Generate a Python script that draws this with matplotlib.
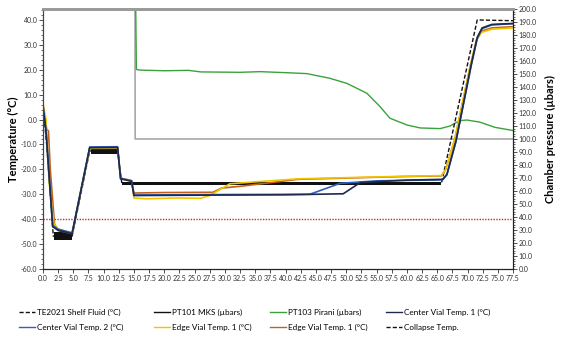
import matplotlib
matplotlib.use("Agg")
import matplotlib.pyplot as plt
from matplotlib.lines import Line2D
from matplotlib.ticker import MultipleLocator, FormatStrFormatter

plt.rcParams['font.family'] = ['Lato', 'DejaVu Sans']

# ---- data (minutes, °C / µbar) ----
shelf_t = [0.0, 0.6, 1.7, 4.8, 7.7, 12.3, 13.0, 65.7, 71.6, 77.5]
shelf_v = [6.0, -10.0, -46.8, -46.8, -12.6, -12.6, -25.6, -25.6, 40.0, 39.7]

# noisy hold periods of the shelf fluid trace (low / high envelope)
band1_t = [1.8, 4.8]
band1_lo = [-48.4, -48.4]
band1_hi = [-45.3, -45.3]
band2_t = [7.9, 12.3]
band2_lo = [-13.8, -13.8]
band2_hi = [-12.0, -12.0]
band3_t = [13.0, 65.7]
band3_lo = [-26.2, -26.2]
band3_hi = [-25.1, -25.1]

cv1_t = [0.0, 0.5, 1.6, 2.5, 4.8, 7.7, 12.3, 12.8, 14.6, 15.0, 30.0, 40.0, 49.5,
         52.3, 60.0, 65.9, 66.6, 68.1, 70.6, 71.6, 72.4, 74.0, 77.5]
cv1_v = [5.5, -5.0, -43.0, -44.5, -45.8, -11.3, -11.2, -23.8, -24.8, -30.5, -30.3,
         -30.2, -29.8, -25.3, -24.3, -24.0, -22.0, -8.5, 22.0, 33.0, 36.8, 38.2, 38.6]

cv2_t = [0.0, 0.5, 1.6, 2.5, 4.8, 7.7, 12.3, 12.8, 14.6, 15.0, 30.0, 44.0, 49.0,
         55.0, 65.9, 66.6, 68.1, 70.6, 71.6, 72.4, 74.0, 77.5]
cv2_v = [5.5, -4.0, -42.5, -44.0, -45.5, -11.0, -10.9, -23.6, -24.6, -30.3, -30.1,
         -30.0, -25.6, -24.6, -24.2, -22.2, -8.8, 21.5, 32.5, 36.5, 38.0, 38.5]

ev1y_t = [0.0, 0.5, 1.0, 1.8, 2.5, 4.8, 7.7, 12.3, 12.8, 14.6, 15.0, 17.0, 22.0,
          26.0, 27.5, 30.8, 35.0, 42.0, 59.0, 65.7, 66.4, 67.9, 70.5, 71.5, 72.3,
          74.0, 77.5]
ev1y_v = [6.3, 0.0, -25.0, -42.0, -44.0, -45.5, -11.5, -11.4, -23.5, -24.7, -31.5,
          -31.8, -31.5, -31.6, -30.5, -25.8, -25.0, -23.8, -22.8, -22.5, -20.0,
          -7.8, 22.0, 32.0, 35.0, 36.3, 36.8]

ev1o_t = [0.0, 0.6, 0.9, 1.2, 1.9, 2.5, 4.8, 7.7, 12.3, 12.8, 14.6, 15.0, 20.0,
          28.0, 29.5, 32.5, 42.0, 59.0, 65.7, 66.4, 67.9, 70.5, 71.5, 72.3, 74.0,
          77.5]
ev1o_v = [6.0, -4.0, -4.5, -20.0, -42.0, -44.5, -45.8, -11.6, -11.5, -23.5, -24.5,
          -29.5, -29.3, -29.2, -27.5, -26.8, -24.0, -22.9, -22.6, -20.0, -8.0, 22.0,
          32.0, 35.5, 36.8, 37.3]

collapse_t = [0.0, 77.5]
collapse_v = [-40.0, -40.0]

mks_t = [0.0, 15.15, 15.2, 77.5]
mks_p = [260.0, 260.0, 100.0, 100.0]

pirani_t = [15.15, 15.4, 16.0, 20.0, 24.0, 26.0, 32.5, 35.8, 40.2, 43.5, 47.3,
            50.1, 53.4, 55.6, 57.2, 60.0, 62.2, 65.5, 67.1, 68.7, 69.9, 72.0,
            74.5, 77.5]
pirani_p = [260.0, 153.5, 153.0, 152.5, 152.8, 151.6, 151.3, 151.8, 151.0, 150.3,
            146.7, 142.8, 135.2, 124.8, 116.0, 110.8, 108.5, 108.0, 110.0, 114.1,
            114.6, 113.0, 109.0, 106.5]

legend_labels = ["TE2021 Shelf Fluid (°C)", "PT101 MKS (µbars)", "PT103 Pirani (µbars)",
                 "Center Vial Temp. 1 (°C)", "Center Vial Temp. 2 (°C)",
                 "Edge Vial Temp. 1 (°C)", "Edge Vial Temp. 1 (°C)", "Collapse Temp."]

# ---- colours ----
c_shelf = "#111111"
c_mks = "#a8a8a8"
c_pirani = "#3aa23a"
c_cv1 = "#1c2b4c"
c_cv2 = "#2f5fbf"
c_evy = "#f2c400"
c_evo = "#c0621c"
c_collapse = "#c0302a"

fig = plt.figure(figsize=(5.65, 3.51), dpi=100)
ax = fig.add_axes([43 / 565, 1 - 269 / 351, 470 / 565, 260 / 351])
ax2 = ax.twinx()
ax.set_zorder(ax2.get_zorder() + 1)
ax.patch.set_visible(False)

# pressure axis
ax2.plot(mks_t, mks_p, color=c_mks, lw=1.2)
ax2.plot(pirani_t, pirani_p, color=c_pirani, lw=1.0)
ax2.set_ylim(0, 200)

# temperature axis
ax.plot(collapse_t, collapse_v, color=c_collapse, lw=1.0, ls=(0, (1, 1)))
for bt, lo, hi in [(band1_t, band1_lo, band1_hi), (band2_t, band2_lo, band2_hi),
                   (band3_t, band3_lo, band3_hi)]:
    ax.fill_between(bt, lo, hi, color=c_shelf, lw=0)
ax.plot(shelf_t, shelf_v, color=c_shelf, lw=1.0, ls=(0, (3, 1.5)))
ax.plot(ev1o_t, ev1o_v, color=c_evo, lw=1.2)
ax.plot(ev1y_t, ev1y_v, color=c_evy, lw=1.2)
ax.plot(cv2_t, cv2_v, color=c_cv2, lw=1.2)
ax.plot(cv1_t, cv1_v, color=c_cv1, lw=1.2)

ax.set_xlim(0, 77.5)
ax.set_ylim(-60, 44.4)

ax.xaxis.set_major_locator(MultipleLocator(2.5))
ax.xaxis.set_major_formatter(FormatStrFormatter('%.1f'))
ax.yaxis.set_major_locator(MultipleLocator(10))
ax.yaxis.set_minor_locator(MultipleLocator(2))
ax.yaxis.set_major_formatter(FormatStrFormatter('%.1f'))
ax2.yaxis.set_major_locator(MultipleLocator(10))
ax2.yaxis.set_minor_locator(MultipleLocator(2))
ax2.yaxis.set_major_formatter(FormatStrFormatter('%.1f'))

ax.tick_params(axis='both', labelsize=5, colors='#333333', length=3, width=0.6, pad=1)
ax.tick_params(axis='y', which='minor', length=1.5, width=0.5, color='#333333')
ax2.tick_params(axis='y', labelsize=5, colors='#333333', length=3, width=0.6, pad=1)
ax2.tick_params(axis='y', which='minor', length=1.5, width=0.5, color='#333333')

for a in (ax, ax2):
    a.spines['top'].set_color('#9a9a9a')
    a.spines['top'].set_linewidth(2)
    a.spines['left'].set_color('#444444')
    a.spines['right'].set_color('#222222')
    a.spines['bottom'].set_color('#222222')
    for s in ('left', 'right', 'bottom'):
        a.spines[s].set_linewidth(0.8)

ax.set_ylabel("Temperature (°C)", fontsize=8, fontweight='bold', labelpad=1)
ax2.set_ylabel("Chamber pressure (µbars)", fontsize=8, fontweight='bold', labelpad=6)

# legend: one small legend per column, placed like the reference
styles = [dict(color=c_shelf, ls=(0, (3, 1.5))), dict(color=c_shelf),
          dict(color=c_pirani), dict(color=c_cv1), dict(color=c_cv2),
          dict(color=c_evy), dict(color=c_evo), dict(color=c_shelf, ls=(0, (3, 1.5)))]
handles = [Line2D([], [], lw=1.0, **s) for s in styles]
col_x = [19, 154, 270, 386]
for c, x in enumerate(col_x):
    idx = [c, c + 4]
    fig.legend([handles[i] for i in idx], [legend_labels[i] for i in idx],
               loc='upper left', bbox_to_anchor=(x / 565, 1 - 309 / 351),
               frameon=False, fontsize=5.9, handlelength=1.95, handletextpad=0.25,
               labelspacing=0.95, borderaxespad=0, borderpad=0)

fig.savefig("out.png", dpi=100)
